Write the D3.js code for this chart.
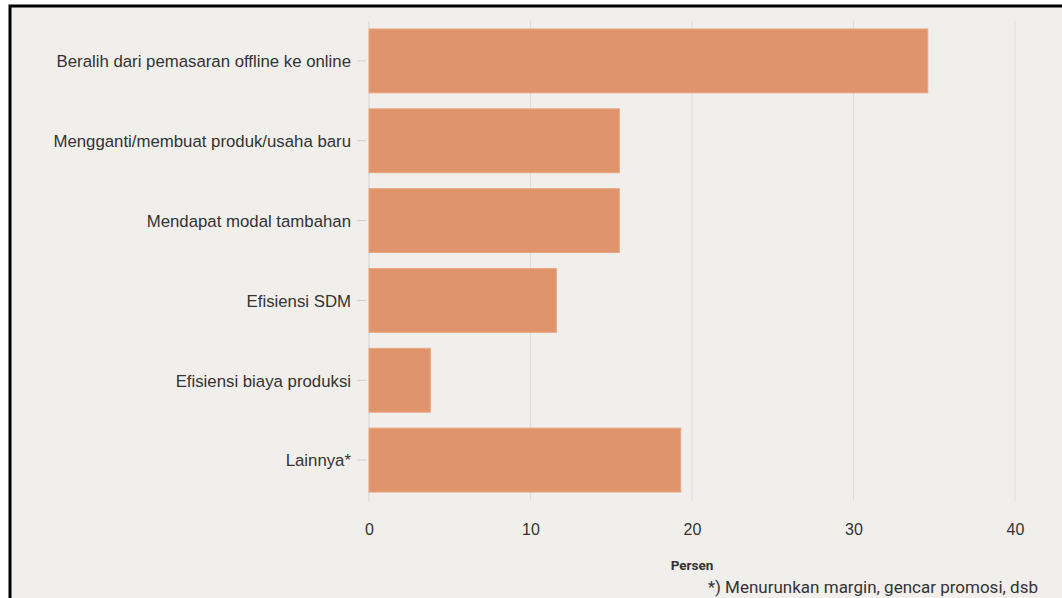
<!DOCTYPE html>
<html>
<head>
<meta charset="utf-8">
<script src="https://cdn.jsdelivr.net/npm/d3@7"></script>
<style>
  html, body { margin: 0; padding: 0; background: #fff; }
  svg { display: block; font-family: Roboto, "Noto Sans", sans-serif; }
</style>
</head>
<body>
<div id="vis"></div>
<script>
const categories = [
  "Beralih dari pemasaran offline ke online",
  "Mengganti/membuat produk/usaha baru",
  "Mendapat modal tambahan",
  "Efisiensi SDM",
  "Efisiensi biaya produksi",
  "Lainnya*"
];
const values = [34.6, 15.5, 15.5, 11.6, 3.8, 19.3];
const xTicks = [0, 10, 20, 30, 40];

const width = 1062;
const height = 598;

const svg = d3.select("#vis")
  .append("svg")
  .attr("width", width)
  .attr("height", height);

// panel with black frame on top/left
svg.append("rect")
  .attr("x", 10)
  .attr("y", 6)
  .attr("width", width + 20)
  .attr("height", height + 20)
  .attr("fill", "#f1efec")
  .attr("stroke", "#000")
  .attr("stroke-width", 3);

const x = d3.scaleLinear()
  .domain([0, 40])
  .range([369, 1015]);

const y = d3.scaleBand()
  .domain(categories)
  .range([21, 500])
  .paddingInner(0.2)
  .paddingOuter(0.1);

// grid
svg.append("g")
  .selectAll("line")
  .data(xTicks)
  .enter()
  .append("line")
  .attr("x1", d => x(d))
  .attr("x2", d => x(d))
  .attr("y1", 21)
  .attr("y2", 501)
  .attr("stroke", d => d === 0 ? "#d6d4d0" : "#e0deda")
  .attr("stroke-width", 1);

// bars
svg.append("g")
  .selectAll("rect")
  .data(values)
  .enter()
  .append("rect")
  .attr("x", x(0))
  .attr("y", (d, i) => y(categories[i]))
  .attr("width", d => x(d) - x(0))
  .attr("height", y.bandwidth())
  .attr("fill", "#de8c5f")
  .attr("fill-opacity", 0.92)
  .attr("stroke", "#e8a682")
  .attr("stroke-width", 1);

// y axis
const yAxis = svg.append("g")
  .attr("transform", `translate(${x(0) - 3},0)`)
  .call(d3.axisLeft(y).tickSize(9).tickPadding(6));
yAxis.select(".domain").remove();
yAxis.selectAll(".tick line").attr("stroke", "#cfcdc9");
yAxis.selectAll(".tick text")
  .attr("fill", "#333")
  .attr("dy", "0.38em")
  .style("font-size", "16.8px");

// x axis
const xAxis = svg.append("g")
  .attr("transform", "translate(0,512)")
  .call(d3.axisBottom(x).tickValues(xTicks).tickSize(0).tickPadding(12));
xAxis.select(".domain").remove();
xAxis.selectAll(".tick text")
  .attr("fill", "#333")
  .style("font-size", "16px");

svg.append("text")
  .attr("x", x(20))
  .attr("y", 570)
  .attr("text-anchor", "middle")
  .attr("fill", "#333")
  .style("font-size", "13.5px")
  .style("font-weight", "bold")
  .text("Persen");

svg.append("text")
  .attr("x", 1038)
  .attr("y", 593)
  .attr("text-anchor", "end")
  .attr("fill", "#333")
  .style("font-size", "17px")
  .text("*) Menurunkan margin, gencar promosi, dsb");
</script>
</body>
</html>
